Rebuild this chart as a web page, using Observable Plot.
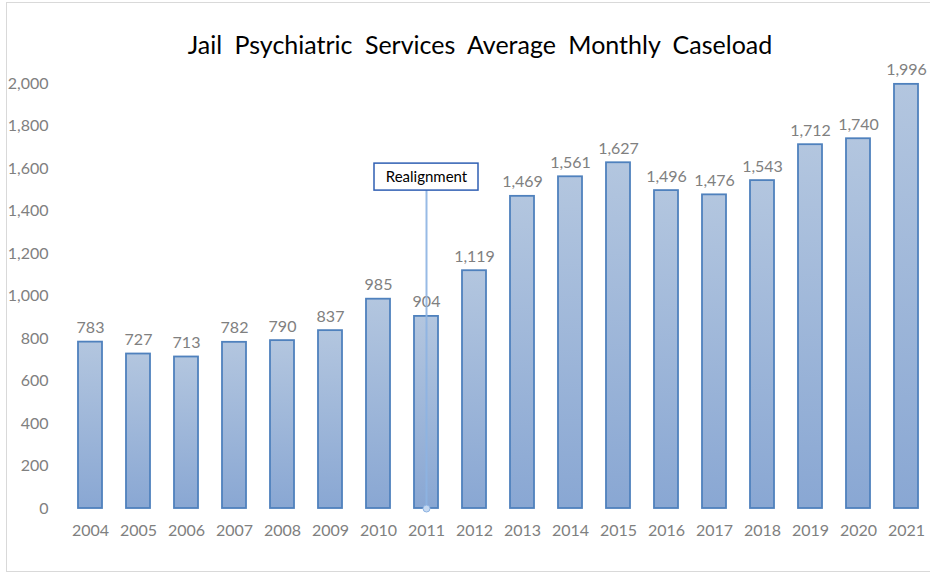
<!DOCTYPE html>
<html>
<head>
<meta charset="utf-8">
<script src="https://cdn.jsdelivr.net/npm/d3@7"></script>
<script src="https://cdn.jsdelivr.net/npm/@observablehq/plot@0.6"></script>
<style>
  html, body { margin: 0; padding: 0; background: #fff; }
  #frame { position: absolute; left: 6px; top: 2px; width: 930px; height: 570px; border: 1px solid #d9d9d9; box-sizing: border-box; }
  #title { position: absolute; left: 0; top: 29px; width: 960px; text-align: center; font-family: Lato, "Open Sans", sans-serif; font-size: 25px; color: #000; word-spacing: 6px; }
  #chart { position: absolute; left: 0; top: 0; }
</style>
</head>
<body>
<div id="frame"></div>
<div id="title">Jail Psychiatric Services Average Monthly Caseload</div>
<div id="chart"></div>
<script>
const years = ["2004","2005","2006","2007","2008","2009","2010","2011","2012","2013","2014","2015","2016","2017","2018","2019","2020","2021"];
const caseload = [783,727,713,782,790,837,985,904,1119,1469,1561,1627,1496,1476,1543,1712,1740,1996];
const yTicks = [0,200,400,600,800,1000,1200,1400,1600,1800,2000];
const annotationYear = "2011";
const annotationLabel = "Realignment";
const annotationBottom = 1496;
const annotationTop = 1623;

const data = years.map((y, i) => ({year: y, value: caseload[i]}));
const fmt = d3.format(",");

const plot = Plot.plot({
  width: 930,
  height: 575,
  marginTop: 83,
  marginBottom: 67,
  marginLeft: 66,
  marginRight: 0,
  style: {fontFamily: "Lato, 'Open Sans', sans-serif", fontSize: "16px", color: "#808080", background: "transparent"},
  x: {domain: years, paddingInner: 0.5, paddingOuter: 0.25, align: 0.5, label: null, tickSize: 0, tickPadding: 16},
  y: {domain: [0, 2000], ticks: yTicks, tickFormat: fmt, label: null, tickSize: 0, tickPadding: 18},
  marks: [
    () => {
      const svg = d3.create("svg:defs");
      const g = svg.append("linearGradient").attr("id", "barGrad").attr("x1", 0).attr("y1", 0).attr("x2", 0).attr("y2", 1);
      g.append("stop").attr("offset", "0%").attr("stop-color", "#b3c6df");
      g.append("stop").attr("offset", "100%").attr("stop-color", "#89a7d3");
      return svg.node();
    },
    Plot.gridY(yTicks, {stroke: "#d9d9d9", strokeOpacity: 1, strokeWidth: 1.5, x1: 66, x2: 925}),
    Plot.barY(data, {x: "year", y: "value", fill: "url(#barGrad)", stroke: "#4f81bd", strokeWidth: 1.8}),
    Plot.text(data, {x: "year", y: "value", text: d => fmt(d.value), dy: -9, lineAnchor: "bottom", fill: "#808080", fontSize: 16}),
    Plot.ruleX([annotationYear], {x: d => d, y1: 0, y2: annotationBottom, stroke: "#8db3e2", strokeWidth: 2, strokeOpacity: 0.9}),
    Plot.dot([annotationYear], {x: d => d, y: 0, r: 3.5, fill: "#c6d9f1", stroke: "#8db3e2", strokeWidth: 1}),
    Plot.barY([annotationYear], {x: d => d, y1: annotationBottom, y2: annotationTop, insetLeft: -40, insetRight: -40, fill: "white", stroke: "#2f5fb3", strokeWidth: 1.5}),
    Plot.text([annotationLabel], {x: () => annotationYear, y: (annotationBottom + annotationTop) / 2, text: d => d, fill: "#000", fontSize: 15})
  ]
});
document.getElementById("chart").appendChild(plot);
</script>
</body>
</html>
